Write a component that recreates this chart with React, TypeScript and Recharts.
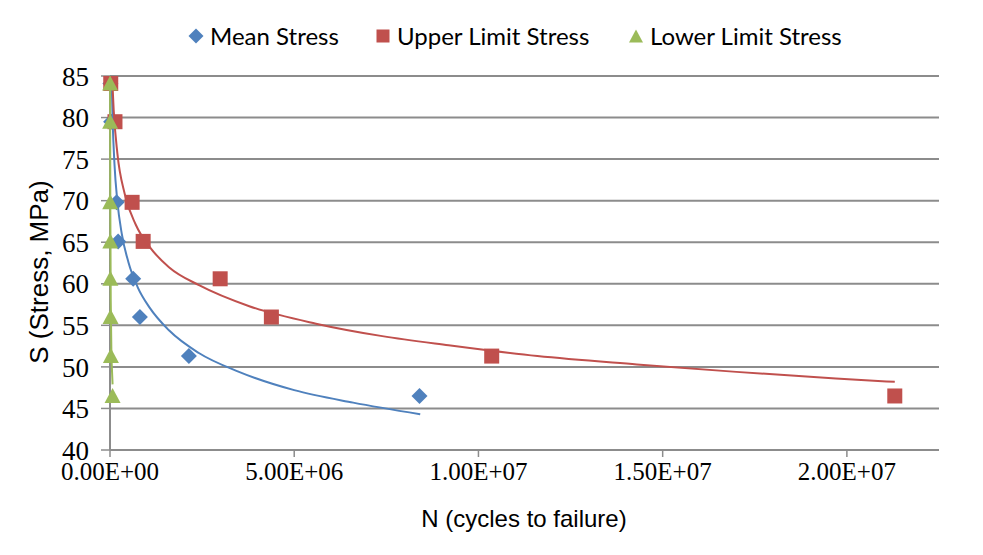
import { ScatterChart, Scatter, XAxis, YAxis, CartesianGrid } from 'recharts'

// stress levels shared by the three test series (MPa)
const stressLevels = [84.1, 79.5, 69.8, 65.1, 60.6, 56.0, 51.3, 46.5]

// cycles to failure
const meanCycles = [1.0e4, 3.0e4, 1.8e5, 2.2e5, 6.3e5, 8.1e5, 2.14e6, 8.4e6]
const upperCycles = [2.0e4, 1.35e5, 6.0e5, 9.0e5, 2.99e6, 4.38e6, 1.036e7, 2.13e7]
const lowerCycles = [3e3, 4e3, 5e3, 8e3, 1.0e4, 1.5e4, 2.5e4, 7e4]

// trendline points
const meanFitN = [4.5e4, 7e4, 1.2e5, 2e5, 3.2e5, 5e5, 7.5e5, 1.08e6, 1.6e6, 2.4e6, 3.5e6, 5e6, 6.6e6, 8.42e6]
const meanFitS = [84.5, 79.8, 74.5, 69.9, 66.0, 62.6, 59.6, 57.1, 54.4, 51.7, 49.4, 47.2, 45.7, 44.3]
const upperFitN = [6e4, 1e5, 2e5, 4e5, 7e5, 1.08e6, 1.6e6, 2.43e6, 3.78e6, 5.59e6, 7.39e6, 9.19e6, 1.16e7, 1.43e7, 1.70e7, 1.97e7, 2.13e7]
const upperFitS = [84.7, 80.9, 75.7, 70.8, 67.1, 64.4, 62.0, 59.8, 57.3, 55.2, 53.7, 52.6, 51.3, 50.3, 49.4, 48.6, 48.2]
const lowerFitN = [3e3, 5e3, 1e4, 2e4, 4e4, 7e4]
const lowerFitS = [84.5, 78, 68, 58, 51, 47.9]

const xTicks = [0, 5e6, 1e7, 1.5e7, 2e7]
const xTickLabels = ['0.00E+00', '5.00E+06', '1.00E+07', '1.50E+07', '2.00E+07']
const yTicks = [40, 45, 50, 55, 60, 65, 70, 75, 80, 85]

const seriesNames = ['Mean Stress', 'Upper Limit Stress', 'Lower Limit Stress']
const COLORS = ['#4F81BD', '#C0504D', '#9BBB59']

const toPoints = (ns: number[], ss: number[]) => ns.map((n, i) => ({ n, s: ss[i] }))

const meanData = toPoints(meanCycles, stressLevels)
const upperData = toPoints(upperCycles, stressLevels)
const lowerData = toPoints(lowerCycles, stressLevels)

const GRID = '#8c8c8c'
const SERIF = '"Times New Roman", "Liberation Serif", serif'
const SANS = '"Liberation Sans", Arial, sans-serif'

function Diamond({ cx, cy }: any) {
  const r = 8
  return <path d={`M${cx},${cy - r}L${cx + r},${cy}L${cx},${cy + r}L${cx - r},${cy}Z`} fill={COLORS[0]} />
}

function Square({ cx, cy }: any) {
  const r = 7.5
  return <rect x={cx - r} y={cy - r} width={r * 2} height={r * 2} fill={COLORS[1]} />
}

function Triangle({ cx, cy }: any) {
  return <path d={`M${cx},${cy - 8}L${cx + 8},${cy + 7}L${cx - 8},${cy + 7}Z`} fill={COLORS[2]} />
}

const NoDot = () => <g />

function XTick({ x, y, payload }: any) {
  return (
    <text x={x} y={y} dy="0.7em" textAnchor="middle" style={{ fontSize: 25, fontFamily: SERIF }} fill="#000">
      {xTickLabels[xTicks.indexOf(payload.value)]}
    </text>
  )
}

function YTick({ x, y, payload }: any) {
  return (
    <text x={x} y={y} dy="0.36em" textAnchor="end" style={{ fontSize: 27, fontFamily: SERIF }} fill="#000">
      {payload.value}
    </text>
  )
}

function LegendMark({ idx }: { idx: number }) {
  if (idx === 0) return <svg width={16} height={16}><path d="M8,0.5L15.5,8L8,15.5L0.5,8Z" fill={COLORS[0]} /></svg>
  if (idx === 1) return <svg width={16} height={16}><rect x={1.5} y={1.5} width={13} height={13} fill={COLORS[1]} /></svg>
  return <svg width={16} height={16}><path d="M8,1.5L15,14.5L1,14.5Z" fill={COLORS[2]} /></svg>
}

const legendLeft = [188, 375, 628]

export default function App() {
  return (
    <div style={{ position: 'relative', width: 983, height: 555, background: '#fff' }}>
      <style>{'body{margin:0}'}</style>
      {seriesNames.map((name, idx) => (
        <div key={name} style={{
          position: 'absolute', left: legendLeft[idx], top: 21, display: 'flex', alignItems: 'center',
          gap: 6, fontFamily: 'Lato, sans-serif', fontSize: 24, color: '#000', lineHeight: '30px'
        }}>
          <LegendMark idx={idx} />
          <span>{name}</span>
        </div>
      ))}
      <ScatterChart width={983} height={555} margin={{ top: 76, right: 44, bottom: 44, left: 40 }}>
        <CartesianGrid vertical={false} stroke={GRID} strokeWidth={2} />
        <XAxis type="number" dataKey="n" domain={[0, 2.25e7]} ticks={xTicks}
          axisLine={{ stroke: GRID, strokeWidth: 2 }} tickLine={{ stroke: GRID, strokeWidth: 1.5 }}
          tickSize={7} tickMargin={5} height={61} tick={<XTick />}
          label={{
            content: () => (
              <text x={524} y={527} textAnchor="middle" fontSize={24} fontFamily={SANS} fill="#000">
                N (cycles to failure)
              </text>
            )
          }} />
        <YAxis type="number" dataKey="s" domain={[40, 85]} ticks={yTicks} width={70}
          axisLine={{ stroke: GRID, strokeWidth: 2 }} tickLine={{ stroke: GRID, strokeWidth: 1.5 }}
          tickSize={9} tickMargin={12} tick={<YTick />}
          label={{
            content: () => (
              <text x={48} y={272} textAnchor="middle" fontSize={26} transform="rotate(-90 48 272)"
                fontFamily={SANS} fill="#000">S (Stress, MPa)</text>
            )
          }} />
        <Scatter name={seriesNames[0]} data={meanData} shape={Diamond} isAnimationActive={false} />
        <Scatter name={seriesNames[1]} data={upperData} shape={Square} isAnimationActive={false} />
        <Scatter name="mean fit" data={toPoints(meanFitN, meanFitS)} shape={NoDot} line={{ stroke: COLORS[0], strokeWidth: 2 }}
          lineJointType="monotoneX" isAnimationActive={false} />
        <Scatter name="upper fit" data={toPoints(upperFitN, upperFitS)} shape={NoDot} line={{ stroke: COLORS[1], strokeWidth: 2 }}
          lineJointType="monotoneX" isAnimationActive={false} />
        <Scatter name={seriesNames[2]} data={lowerData} shape={Triangle} isAnimationActive={false} />
        <Scatter name="lower fit" data={toPoints(lowerFitN, lowerFitS)} shape={NoDot} line={{ stroke: COLORS[2], strokeWidth: 2 }}
          lineJointType="linear" isAnimationActive={false} />
      </ScatterChart>
    </div>
  )
}
